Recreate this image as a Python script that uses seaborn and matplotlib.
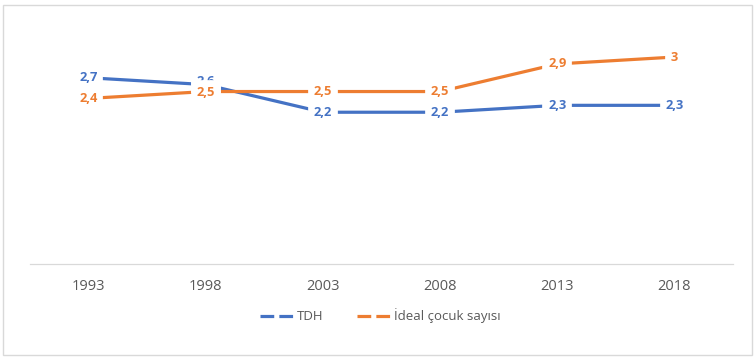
import matplotlib
matplotlib.use("Agg")
import matplotlib.pyplot as plt
from matplotlib.lines import Line2D
from matplotlib.patches import Rectangle
import seaborn as sns
import pandas as pd

years = ["1993", "1998", "2003", "2008", "2013", "2018"]
tdh = [2.7, 2.6, 2.2, 2.2, 2.3, 2.3]
ideal = [2.4, 2.5, 2.5, 2.5, 2.9, 3.0]
series_names = ["TDH", "İdeal çocuk sayısı"]
colors = ["#4472C4", "#ED7D31"]

df = pd.DataFrame({
    "year": years * 2,
    "value": tdh + ideal,
    "series": [series_names[0]] * len(years) + [series_names[1]] * len(years),
})

sns.set_theme(style="white")
plt.rcParams["font.family"] = ["Open Sans", "DejaVu Sans"]

fig = plt.figure(figsize=(7.56, 3.61), dpi=100)
ax = fig.add_axes([30 / 756, 1 - 264 / 361, 703 / 756, 238 / 361])

sns.lineplot(data=df, x="year", y="value", hue="series", palette=colors,
             linewidth=2.3, legend=False, ax=ax, sort=False)

ax.set_xlim(-0.5, 5.5)
ax.set_ylim(0, 3.45)
ax.set_xlabel("")
ax.set_ylabel("")
ax.set_yticks([])
for s in ["top", "left", "right"]:
    ax.spines[s].set_visible(False)
ax.spines["bottom"].set_color("#D9D9D9")
ax.spines["bottom"].set_linewidth(0.9)
ax.tick_params(axis="x", length=0, pad=11, labelsize=10.5, labelcolor="#595959")

def fmt(v):
    s = f"{v:.1f}".replace(".", ",")
    return s[:-2] if s.endswith(",0") else s

for k, (vals, c) in enumerate([(tdh, colors[0]), (ideal, colors[1])]):
    for i, v in enumerate(vals):
        dy = 0
        if i == 1:
            dy = 2.5 if k == 0 else -0.5
        ax.annotate(fmt(v), (i, v), xytext=(0, dy), textcoords="offset points",
                    ha="center", va="center", color=c,
                    fontsize=9.3, fontweight="bold", zorder=5,
                    bbox=dict(boxstyle="square,pad=0.05", fc="white", ec="white",
                              lw=7))

handles = [Line2D([0], [0], color=c, lw=2.3, linestyle=(0, (4.3, 1.6))) for c in colors]
fig.legend(handles, series_names, loc="center", bbox_to_anchor=(0.503, 0.125),
           ncol=2, frameon=False, fontsize=9.5, handlelength=2.5,
           handletextpad=0.3, columnspacing=2.6, labelcolor="#595959")

fig.patches.append(Rectangle((3 / 756, 1 - 355 / 361), 749 / 756, 350 / 361,
                             transform=fig.transFigure, fill=False,
                             ec="#D9D9D9", lw=1.0, zorder=0))

fig.savefig("out.png", dpi=100, facecolor="white")
